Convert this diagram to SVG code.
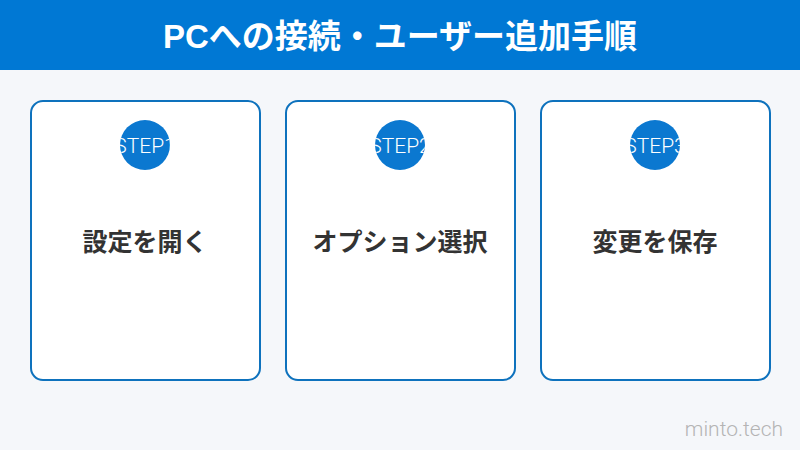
<svg xmlns="http://www.w3.org/2000/svg" width="800" height="450" viewBox="0 0 800 450">
<style>
.card{fill:#ffffff;stroke:#0e72bd;stroke-width:2}
.badge{fill:#0b78d0}
.step{font-family:Roboto,"Liberation Sans",sans-serif;font-size:21px;font-weight:300;fill:#ffffff;text-anchor:middle}
.label{font-family:"Noto Sans CJK JP",sans-serif;font-size:25px;font-weight:bold;fill:#333333;text-anchor:middle}
</style>
<defs>
<clipPath id="c1"><circle cx="145" cy="145" r="25"/></clipPath>
<clipPath id="c2"><circle cx="400" cy="145" r="25"/></clipPath>
<clipPath id="c3"><circle cx="655" cy="145" r="25"/></clipPath>
</defs>
<rect width="800" height="450" fill="#f5f7fa"/>
<g id="header">
<rect x="0" y="0" width="800" height="70" fill="#0078d4"/>
<text x="400" y="48" font-family="'Liberation Sans','Noto Sans CJK JP',sans-serif" font-size="33" font-weight="bold" fill="#ffffff" text-anchor="middle">PCへの接続・ユーザー追加手順</text>
</g>
<g id="step1">
<rect class="card" x="31" y="101" width="229" height="279" rx="12"/>
<circle class="badge" cx="145" cy="145" r="25"/>
<text class="step" x="145" y="153" clip-path="url(#c1)">STEP1</text>
<text class="label" x="145" y="251">設定を開く</text>
</g>
<g id="step2">
<rect class="card" x="286" y="101" width="229" height="279" rx="12"/>
<circle class="badge" cx="400" cy="145" r="25"/>
<text class="step" x="400" y="153" clip-path="url(#c2)">STEP2</text>
<text class="label" x="400" y="251">オプション選択</text>
</g>
<g id="step3">
<rect class="card" x="541" y="101" width="229" height="279" rx="12"/>
<circle class="badge" cx="655" cy="145" r="25"/>
<text class="step" x="655" y="153" clip-path="url(#c3)">STEP3</text>
<text class="label" x="655" y="251">変更を保存</text>
</g>
<g id="connectors"></g>
<text x="783" y="436" font-family="Roboto,'Liberation Sans',sans-serif" font-weight="300" font-size="21" fill="#b4b4b4" text-anchor="end">minto.tech</text>
</svg>
